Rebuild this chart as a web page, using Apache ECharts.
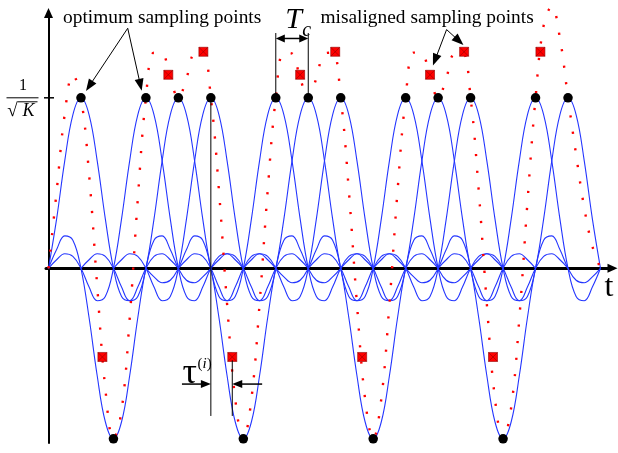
<!DOCTYPE html>
<html><head><meta charset="utf-8">
<script src="https://cdn.jsdelivr.net/npm/echarts@6/dist/echarts.min.js"></script>
<style>html,body{margin:0;padding:0;background:#fff}#c{width:618px;height:453px}</style>
</head><body><div id="c"></div>
<script>
// chip positions (multiples of Tc) and chip amplitudes (units of 1/sqrt(K))
const chipIndex = [1,2,3,4,5,6,7,8,9,10,11,12,13,14,15,16];
const chipValue = [1,-1,1,1,1,-1,1,1,1,-1,1,1,1,-1,1,1];
// chip pulse shape, at offsets 0, 0.25, ... 3 Tc from its centre
const pulseOffset = [0,0.25,0.5,0.75,1,1.25,1.5,1.75,2,2.25,2.5,2.75,3];
const pulseShape  = [1,0.90,0.63,0.29,0,-0.165,-0.19,-0.11,0,0.07,0.085,0.05,0];
// misaligned sampling points (t in Tc, value in 1/sqrt(K))
const misT = [1.66,3.69,4.77,5.66,7.75,8.83,9.66,11.75,12.8,13.69,15.15];
const misV = [-0.52,1.135,1.27,-0.52,1.135,1.27,-0.52,1.135,1.27,-0.52,1.27];
const tStart = 0, tEnd = 17;
const levelLabel = ['1','√','K'];

const BLUE = '#2436ff', RED = '#ff0000', SERIF = '"Liberation Serif","Times New Roman",serif';
const step = pulseOffset[1] - pulseOffset[0];
const span = pulseOffset[pulseOffset.length - 1];

function shapeAt(d) { return pulseShape[Math.round(Math.abs(d) / step)]; }

// individual chip pulses
const pulseSeries = chipIndex.map((k, i) => {
  const pts = [];
  for (let j = -pulseOffset.length + 1; j < pulseOffset.length; j++) {
    const d = Math.sign(j) * pulseOffset[Math.abs(j)];
    const t = k + d;
    if (t < tStart - 1e-9 || t > tEnd + 1e-9) continue;
    pts.push([t, chipValue[i] * shapeAt(d)]);
  }
  return {type:'line', data: pts, smooth: 0.4, symbol:'none', silent:true, z:2,
    lineStyle:{color:BLUE, width:1.1}, animation:false};
});

// received signal = sum of all chip pulses (on the same offset grid)
const sumData = [];
for (let n = 0; tStart + n * step <= tEnd + 1e-9; n++) {
  const t = tStart + n * step;
  let s = 0;
  chipIndex.forEach((k, i) => { if (Math.abs(t - k) <= span + 1e-9) s += chipValue[i] * shapeAt(t - k); });
  sumData.push([t, s]);
}

const chart = echarts.init(document.getElementById('c'));
const option = {
  animation: false,
  grid: {left: 46, right: 5.5, top: 13, bottom: 10},
  xAxis: {type:'value', min:-0.077, max:17.37,
    axisLine:{show:true, onZero:true, lineStyle:{color:'#000', width:3}, symbol:['none','triangle'], symbolSize:[9,10]},
    axisTick:{show:false}, axisLabel:{show:false}, splitLine:{show:false}},
  yAxis: {type:'value', min:-1.0246, max:1.4974,
    axisLine:{show:true, onZero:true, lineStyle:{color:'#000', width:2}, symbol:['none','triangle'], symbolSize:[9,10]},
    axisTick:{show:false}, axisLabel:{show:false}, splitLine:{show:false}},
  series: [
    ...pulseSeries,
    {type:'line', data: sumData, smooth:0.4, symbol:'none', silent:true, z:3, clip:false,
      lineStyle:{color:RED, width:2.4, type:[2.2,14.5], cap:'butt'}},
    {type:'scatter', data: chipIndex.map((k,i)=>[k, chipValue[i]]), symbolSize:9.5, z:5, silent:true,
      itemStyle:{color:'#000', opacity:1}},
    {type:'scatter', data: misT.map((t,i)=>[t, misV[i]]), z:6, silent:true, clip:false,
      symbol:'path://M0 0H10V10H0Z M0 0L10 10 M10 0L0 10', symbolSize:9,
      itemStyle:{color:'#ff0000', borderColor:'#900000', borderWidth:0.6, opacity:1}}
  ]
};
chart.setOption(option);

function px(t, v) { return chart.convertToPixel({gridIndex:0}, [t, v]); }
function head(tip, from, len, w) {
  const dx = tip[0]-from[0], dy = tip[1]-from[1], L = Math.hypot(dx, dy), ux = dx/L, uy = dy/L;
  const bx = tip[0]-ux*len, by = tip[1]-uy*len;
  return [[tip[0],tip[1]],[bx-uy*w/2, by+ux*w/2],[bx+uy*w/2, by-ux*w/2]];
}
function arrow(from, to, len, w, lw) {
  const dx = to[0]-from[0], dy = to[1]-from[1], L = Math.hypot(dx, dy);
  const end = [to[0]-dx/L*len*0.7, to[1]-dy/L*len*0.7];
  return [
    {type:'line', z:100, shape:{x1:from[0], y1:from[1], x2:end[0], y2:end[1]}, style:{stroke:'#000', lineWidth:lw}},
    {type:'polygon', z:100, shape:{points:head(to, from, len, w)}, style:{fill:'#000'}}
  ];
}
function vline(t, v1, v2) {
  const a = px(t, v1), b = px(t, v2);
  return {type:'line', z:100, shape:{x1:a[0], y1:a[1], x2:b[0], y2:b[1]}, style:{stroke:'#000', lineWidth:1}};
}
function text(p, str, size, opts) {
  return {type:'text', z:100, x:p[0], y:p[1], style:Object.assign({text:str, font:size+'px '+SERIF, fill:'#000',
    align:'center', textAlign:'center', verticalAlign:'middle', textVerticalAlign:'middle'}, opts||{})};
}

const g = [];
// y level 1/sqrt(K)
const lv = px(0, 1);
g.push({type:'line', z:100, shape:{x1:lv[0]-4.5, y1:lv[1], x2:lv[0]+5.5, y2:lv[1]}, style:{stroke:'#000', lineWidth:1.5}});
g.push(text([lv[0]-25.5, lv[1]-12.5], levelLabel[0], 16));
g.push({type:'line', z:100, shape:{x1:lv[0]-42, y1:lv[1], x2:lv[0]-10, y2:lv[1]}, style:{stroke:'#000', lineWidth:1}});
g.push(text([lv[0]-36, lv[1]+13], levelLabel[1], 19));
g.push(text([lv[0]-20, lv[1]+13.5], levelLabel[2], 18, {font:'italic 18px '+SERIF}));
g.push({type:'line', z:100, shape:{x1:lv[0]-31, y1:lv[1]+4, x2:lv[0]-11, y2:lv[1]+4}, style:{stroke:'#000', lineWidth:1}});

// optimum sampling points
g.push(text(px(3.50, 1.468), 'optimum sampling points', 19.4));
g.push(...arrow(px(2.44, 1.408), px(1.155, 1.04), 12, 9, 1));
g.push(...arrow(px(2.44, 1.408), px(2.87, 1.042), 12, 9, 1));
// misaligned sampling points
g.push(text(px(11.66, 1.468), 'misaligned sampling points', 19.4));
g.push(...arrow(px(12.26, 1.40), px(11.84, 1.189), 12, 9, 1));
g.push(...arrow(px(12.26, 1.40), px(12.78, 1.31), 12, 9, 1));
// Tc
g.push(vline(7, 1, 1.38));
g.push(vline(8, 1, 1.38));
const ta = px(7, 1.348), tb = px(8, 1.348);
g.push(...arrow([ (ta[0]+tb[0])/2, ta[1]], ta, 9, 8, 1.5));
g.push(...arrow([ (ta[0]+tb[0])/2, tb[1]], tb, 9, 8, 1.5));
g.push(text(px(7.55, 1.455), 'T', 30, {font:'italic 30px '+SERIF}));
g.push(text(px(7.95, 1.392), 'c', 20, {font:'italic 20px '+SERIF}));
// tau
g.push(vline(5, 1, -0.866));
g.push(vline(misT[3], misV[3] - 0.02, -0.866));
g.push(...arrow(px(4.11, -0.679), px(5, -0.679), 10, 8, 1.5));
g.push(...arrow(px(6.58, -0.679), px(misT[3], -0.679), 10, 8, 1.5));
g.push(text(px(4.35, -0.62), 'τ', 36));
const sp = px(4.81, -0.56);
g.push({type:'text', z:100, x:sp[0], y:sp[1], style:{text:'{p|(}{i|i}{p|)}', align:'center', textAlign:'center',
  verticalAlign:'middle', textVerticalAlign:'middle',
  rich:{p:{font:'15px '+SERIF, fill:'#000'}, i:{font:'italic 15px '+SERIF, fill:'#000'}}}});
// t label
g.push(text(px(17.26, -0.115), 't', 32));

chart.setOption({graphic: g});
</script></body></html>
